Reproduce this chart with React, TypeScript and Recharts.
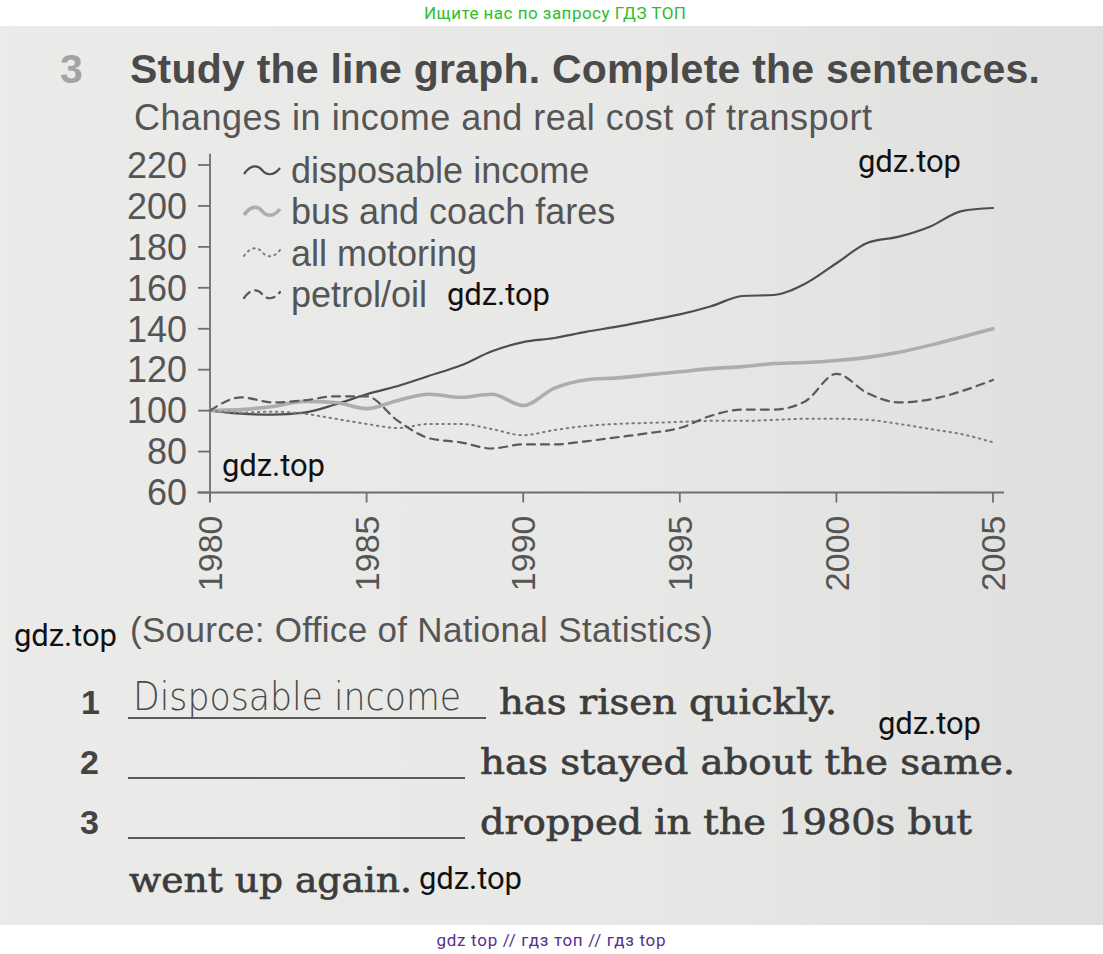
import React from "react";
import { Legend, Line, LineChart, ReferenceLine, XAxis, YAxis } from "recharts";

// index values, 1980 = 100
const YEARS = [
  1980, 1981, 1982, 1983, 1984, 1985, 1986, 1987, 1988, 1989, 1990, 1991, 1992,
  1993, 1994, 1995, 1996, 1997, 1998, 1999, 2000, 2001, 2002, 2003, 2004, 2005,
];
const DISPOSABLE_INCOME = [
  100, 98.5, 98, 99, 103, 108, 112, 117, 122, 129, 133.5, 135.5, 138.5, 141, 144,
  147, 151, 156, 156.5, 162, 172, 182, 185, 190, 197.5, 199,
];
const BUS_COACH_FARES = [
  100, 100.5, 102, 104.5, 104, 101, 105, 108, 106.5, 108, 102.5, 111, 115, 116,
  117.5, 119, 120.5, 121.5, 123, 123.5, 124.5, 126, 128.5, 132, 136, 140,
];
const ALL_MOTORING = [
  100, 99, 99.5, 98.5, 96, 93.5, 91.5, 93.5, 93.5, 91, 88, 90.5, 92.5, 93.5, 94,
  94.5, 95, 95, 95.5, 96, 96, 95.5, 93.5, 91, 88.5, 84.5,
];
const PETROL_OIL = [
  100, 106.5, 104, 105, 107, 107, 95, 86.5, 84.5, 81.5, 83.5, 83.5, 85, 87, 89,
  91.5, 97.5, 100.5, 100.5, 104.5, 118, 108.5, 104, 105.5, 109.5, 115,
];
const SERIES_KEYS = ["income", "bus", "motoring", "petrol"];
const SERIES_NAMES = [
  "disposable income",
  "bus and coach fares",
  "all motoring",
  "petrol/oil",
];
const Y_TICKS = [60, 80, 100, 120, 140, 160, 180, 200, 220];
const X_TICKS = [1980, 1985, 1990, 1995, 2000, 2005];

const data = YEARS.map((year, i) => ({
  year,
  income: DISPOSABLE_INCOME[i],
  bus: BUS_COACH_FARES[i],
  motoring: ALL_MOTORING[i],
  petrol: PETROL_OIL[i],
}));

const SANS = "'Liberation Sans', Arial, Helvetica, sans-serif";
const SERIF = "'DejaVu Serif', 'Liberation Serif', serif";
const TEXT = "#555555";
const AXIS = "#6e6e6e";
const INK = "#3c3c3c";

const STYLES: Record<string, { color: string; width: number; dash?: string }> = {
  income: { color: "#4e4e4e", width: 2.2 },
  bus: { color: "#adadad", width: 3.6 },
  motoring: { color: "#7c7c7c", width: 2, dash: "1.5 4.5" },
  petrol: { color: "#5a5a5a", width: 2.2, dash: "8 6" },
};

const YearTick = (props: any) => {
  const { x, y, payload } = props;
  return (
    <text
      x={x}
      y={y}
      transform={`rotate(-90, ${x}, ${y})`}
      textAnchor="end"
      dy="0.36em"
      fill={TEXT}
      fontSize={34}
      fontFamily={SANS}
    >
      {payload.value}
    </text>
  );
};

const LegendBox = (props: any) => {
  const entries = [...(props.payload || [])].sort(
    (a: any, b: any) => SERIES_KEYS.indexOf(a.dataKey) - SERIES_KEYS.indexOf(b.dataKey)
  );
  return (
    <div style={{ fontFamily: SANS, fontSize: 36, color: TEXT }}>
      {entries.map((entry: any) => {
        const s = STYLES[entry.dataKey];
        return (
          <div
            key={entry.dataKey}
            style={{ display: "flex", alignItems: "center", height: 41.3 }}
          >
            <svg width={42} height={20}>
              <path
                d="M3,13 C10,3 17,4 21,9 S32,16 39,7"
                fill="none"
                stroke={s.color}
                strokeWidth={s.width}
                strokeDasharray={s.dash}
                strokeLinecap={s.dash ? "round" : "butt"}
              />
            </svg>
            <span style={{ marginLeft: 8, lineHeight: "41px", whiteSpace: "nowrap" }}>
              {entry.value}
            </span>
          </div>
        );
      })}
    </div>
  );
};

const Mark = ({ x, y }: { x: number; y: number }) => (
  <text x={x} y={y} fontFamily="Roboto, sans-serif" fontSize={31} fill="#111" textLength={103}>
    gdz.top
  </text>
);

export default function App() {
  return (
    <div
      style={{
        position: "absolute",
        left: 0,
        top: 0,
        width: 1103,
        height: 954,
        overflow: "hidden",
        background: "#ffffff",
      }}
    >
      <div
        style={{
          position: "absolute",
          left: 0,
          top: 26,
          width: 1103,
          height: 899,
          background: "linear-gradient(90deg, #ebebea 0%, #e8e8e7 55%, #dfdfde 100%)",
        }}
      />
      <div style={{ position: "absolute", left: 0, top: 0 }}>
        <LineChart
          width={1103}
          height={640}
          data={data}
          margin={{ top: 165, right: 110, bottom: 47.5, left: 0 }}
        >
          <XAxis
            type="number"
            dataKey="year"
            domain={[1980, 2005]}
            ticks={X_TICKS}
            interval={0}
            axisLine={false}
            tickSize={10}
            tickMargin={13}
            tickLine={{ stroke: AXIS, strokeWidth: 1.8 }}
            tick={<YearTick />}
            height={100}
          />
          <YAxis
            domain={[60, 220]}
            ticks={Y_TICKS}
            interval={0}
            axisLine={false}
            width={210}
            tickSize={12}
            tickMargin={11}
            tickLine={{ stroke: AXIS, strokeWidth: 1.8 }}
            tick={{ fill: TEXT, fontSize: 36, fontFamily: SANS }}
          />
          <ReferenceLine
            segment={[
              { x: 1980, y: 55.5 },
              { x: 1980, y: 225.5 },
            ]}
            ifOverflow="visible"
            stroke={AXIS}
            strokeWidth={1.8}
          />
          <ReferenceLine
            segment={[
              { x: 1979.6, y: 60 },
              { x: 2005.35, y: 60 },
            ]}
            ifOverflow="visible"
            stroke={AXIS}
            strokeWidth={1.8}
          />
          <Legend
            layout="vertical"
            align="center"
            verticalAlign="middle"
            content={<LegendBox />}
            wrapperStyle={{ left: 241, top: 150, width: 420, height: 170 }}
          />
          {SERIES_KEYS.map((key, i) => (
            <Line
              key={key}
              dataKey={key}
              name={SERIES_NAMES[i]}
              type="monotone"
              stroke={STYLES[key].color}
              strokeWidth={STYLES[key].width}
              strokeDasharray={STYLES[key].dash}
              strokeLinecap="round"
              dot={false}
              activeDot={false}
              isAnimationActive={false}
            />
          ))}
        </LineChart>
      </div>
      <svg
        width={1103}
        height={954}
        style={{ position: "absolute", left: 0, top: 0, pointerEvents: "none" }}
      >
        <text x={555} y={19} textAnchor="middle" fontFamily="Roboto, sans-serif" fontSize={17} fill="#2dbd2d" textLength={262}>
          Ищите нас по запросу ГДЗ ТОП
        </text>
        <text x={60} y={83} fontFamily={SANS} fontWeight="bold" fontSize={41} fill="#a3a3a3">
          3
        </text>
        <text x={130} y={83} fontFamily={SANS} fontWeight="bold" fontSize={41} fill="#4a4a4a" textLength={910}>
          Study the line graph. Complete the sentences.
        </text>
        <text x={134} y={130} fontFamily={SANS} fontSize={36} fill={TEXT} textLength={738}>
          Changes in income and real cost of transport
        </text>
        <text x={130} y={642} fontFamily={SANS} fontSize={35} fill={TEXT} textLength={583}>
          (Source: Office of National Statistics)
        </text>

        <text x={81} y={714} fontFamily={SANS} fontWeight="bold" fontSize={34} fill="#444">1</text>
        <text x={133} y={710} fontFamily="'DejaVu Sans', sans-serif" fontWeight={200} fontSize={39} fill="#4a4a4a" textLength={328} lengthAdjust="spacingAndGlyphs">
          Disposable income
        </text>
        <line x1={128} y1={718} x2={486} y2={718} stroke="#5a5a5a" strokeWidth={2} />
        <g fill={INK} stroke={INK} strokeWidth={0.7} fontFamily={SERIF} fontSize={36}>
          <text x={499} y={714} textLength={338} lengthAdjust="spacingAndGlyphs">
            has risen quickly.
          </text>
          <text x={480} y={774} textLength={535} lengthAdjust="spacingAndGlyphs">
            has stayed about the same.
          </text>
          <text x={480} y={834} textLength={492} lengthAdjust="spacingAndGlyphs">
            dropped in the 1980s but
          </text>
          <text x={129} y={892} textLength={283} lengthAdjust="spacingAndGlyphs">
            went up again.
          </text>
        </g>

        <text x={80} y={774} fontFamily={SANS} fontWeight="bold" fontSize={34} fill="#444">2</text>
        <line x1={128} y1={778} x2={465} y2={778} stroke="#5a5a5a" strokeWidth={2} />
        <text x={80} y={834} fontFamily={SANS} fontWeight="bold" fontSize={34} fill="#444">3</text>
        <line x1={128} y1={838} x2={465} y2={838} stroke="#5a5a5a" strokeWidth={2} />

        <Mark x={858} y={172} />
        <Mark x={447} y={305} />
        <Mark x={222} y={476} />
        <Mark x={14} y={646} />
        <Mark x={878} y={734} />
        <Mark x={419} y={889} />

        <text x={551} y={946} textAnchor="middle" fontFamily="Roboto, sans-serif" fontSize={17} fill="#55308f" textLength={229}>
          gdz top  //  гдз топ  //  гдз top
        </text>
      </svg>
    </div>
  );
}
